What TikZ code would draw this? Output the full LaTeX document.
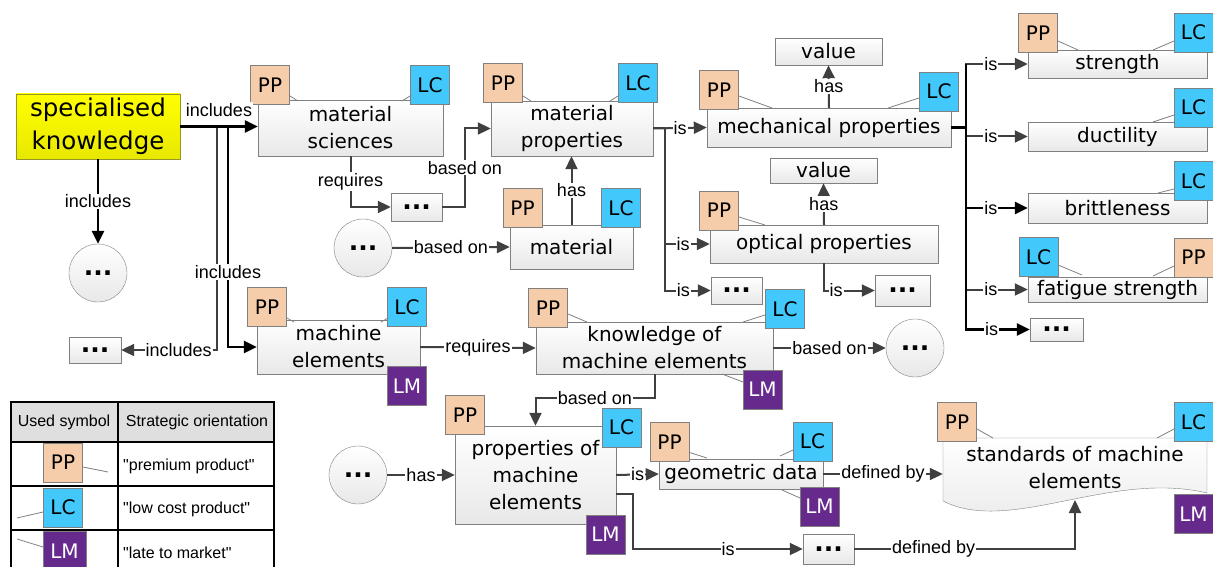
\documentclass[tikz,border=0pt]{standalone}
\usepackage{fontspec}
\setmainfont{DejaVu Sans}
\newfontfamily\lblfont{Liberation Sans}
\usepackage{tikz}
\usetikzlibrary{arrows.meta,calc}
\definecolor{ppcol}{RGB}{245,205,170}
\definecolor{lccol}{RGB}{66,200,250}
\definecolor{lmcol}{RGB}{102,42,140}
\definecolor{boxgray}{RGB}{128,128,128}
\definecolor{boxfill}{RGB}{232,232,232}
\definecolor{linkgray}{RGB}{64,64,64}
\definecolor{keyyellow}{RGB}{255,255,0}
\definecolor{keyyellowdark}{RGB}{232,232,0}
\definecolor{keyborder}{RGB}{150,150,40}
\newcommand\conceptfont{\fontsize{20}{27}\selectfont}
\newcommand\dotsmark{{\fontsize{25}{25}\selectfont\textbf{...}}}

\begin{document}
\begin{tikzpicture}[x=1pt,y=-1pt,
    concept/.style={draw=boxgray, top color=white, bottom color=boxfill, inner sep=1pt, align=center, font=\conceptfont},
    keyconcept/.style={draw=keyborder, top color=keyyellow, bottom color=keyyellowdark, font=\fontsize{24.5}{33}\selectfont},
    dotcircle/.style={circle, draw=boxgray, top color=white, bottom color=boxfill, minimum size=58pt, inner sep=0pt, font=\conceptfont},
    tagbox/.style={draw=boxgray, minimum size=39pt, inner sep=0pt, font=\fontsize{20}{24}\selectfont},
    ppbox/.style={tagbox, fill=ppcol},
    lcbox/.style={tagbox, fill=lccol},
    lmbox/.style={tagbox, fill=lmcol, text=white},
    tagline/.style={draw=boxgray, line width=0.8pt},
    link/.style={draw=linkgray, line width=2pt, -{Triangle[length=13pt,width=12pt]}},
    linkb/.style={link, draw=black, line width=2.5pt},
    lbl/.style={fill=white, inner sep=1pt, font=\lblfont\fontsize{18}{20}\selectfont},
    legtext/.style={inner sep=0pt, font=\lblfont\fontsize{16}{18}\selectfont}]
  \useasboundingbox (0,0) rectangle (1213,567);

  % concepts
  \node[concept, keyconcept, minimum width=164pt, minimum height=65pt] (spec) at (98,126.5) {specialised\\knowledge};
  \node[dotcircle] (circA) at (98,273) {\dotsmark};
  \node[concept, minimum width=185pt, minimum height=56pt] (matsci) at (350.5,128) {material\\sciences};
  \node[concept, minimum width=162pt, minimum height=55pt] (matprop) at (572,128.5) {material\\properties};
  \node[concept, minimum width=51pt, minimum height=28pt] (dotsReq) at (416.5,207) {\dotsmark};
  \node[dotcircle] (circB) at (363,248) {\dotsmark};
  \node[concept, minimum width=123pt, minimum height=44pt] (material) at (571.5,247) {material};
  \node[concept, minimum width=244pt, minimum height=39pt] (mech) at (829,127.5) {mechanical properties};
  \node[concept, minimum width=107pt, minimum height=27pt] (valueA) at (828.5,51.5) {value};
  \node[concept, minimum width=107pt, minimum height=25pt] (valueB) at (823.5,170.5) {value};
  \node[concept, minimum width=228pt, minimum height=38pt] (optical) at (824,244) {optical properties};
  \node[concept, minimum width=55pt, minimum height=31pt] (dotsOpt) at (902.5,290.5) {\dotsmark};
  \node[concept, minimum width=51pt, minimum height=27pt] (dotsMat) at (736.5,290.5) {\dotsmark};
  \node[concept, minimum width=179pt, minimum height=28pt] (strength) at (1117.5,64) {strength};
  \node[concept, minimum width=179pt, minimum height=29pt] (ductility) at (1117.5,136.5) {ductility};
  \node[concept, minimum width=179pt, minimum height=30pt] (brittle) at (1117.5,208) {brittleness};
  \node[concept, minimum width=179pt, minimum height=25pt] (fatigue) at (1117.5,289.5) {fatigue strength};
  \node[concept, minimum width=53pt, minimum height=23pt] (dotsMech) at (1056.5,329.5) {\dotsmark};
  \node[concept, minimum width=52pt, minimum height=26pt] (dotsInc) at (95,350) {\dotsmark};
  \node[concept, minimum width=163pt, minimum height=54pt] (machel) at (338.5,347) {machine\\elements};
  \node[concept, minimum width=237pt, minimum height=52pt] (knowl) at (654.5,348) {knowledge of\\machine elements};
  \node[dotcircle] (circC) at (915,348) {\dotsmark};
  \node[concept, minimum width=161pt, minimum height=98pt] (propme) at (535.5,475) {properties of\\machine\\elements};
  \node[dotcircle] (circD) at (358,475) {\dotsmark};
  \node[concept, minimum width=164pt, minimum height=30pt] (geom) at (741,474) {geometric data};
  \node[concept, minimum width=51pt, minimum height=30pt] (dotsBot) at (828.5,549) {\dotsmark};

  % document shape
  \coordinate (wl) at (943,501);
  \coordinate (wr) at (1207,493);
  \coordinate (wb) at (1075,500);
  \draw[draw=boxgray, top color=white, bottom color=boxfill] (943,438) -- (1207,438) -- (wr) .. controls (1110,470) and (1010,535) .. (wl) -- cycle;
  \node[minimum width=264pt, minimum height=64pt, align=center, font=\conceptfont] (std) at (1075,468) {standards of machine\\elements};

  % tag lines
  \draw[tagline] (290,96) -- ++(8,5) (410,96) -- ++(-8,5);
  \draw[tagline] (523,96) -- ++(8,5) (618,96) -- ++(-8,5);
  \draw[tagline] (739,96) -- ++(33,12) (919,98) -- ++(-31,10);
  \draw[tagline] (739,217) -- ++(26,8);
  \draw[tagline] (1058,41) -- ++(20,9) (1174,41) -- ++(-21,9);
  \draw[tagline] (1174,115) -- ++(-21,7);
  \draw[tagline] (1174,189) -- ++(-16,4);
  \draw[tagline] (1058,265) -- ++(24,10) (1174,266) -- ++(-21,10);
  \draw[tagline] (287,318) -- ++(7,4) (388,318) -- ++(-7,4);
  \draw[tagline] (568,314) -- ++(19,8) (765,315) -- ++(-22,7) (743,382) -- ++(-21,-8);
  \draw[tagline] (688,452) -- ++(19,6) (793,450) -- ++(-13,6) (800,498) -- ++(-18,-8);
  \draw[tagline] (977,429) -- ++(16,9) (1174,429) -- ++(-17,9);

  % tags
  \node[ppbox] (ppMatsci) at (270,85) {PP};
  \node[lcbox] (lcMatsci) at (430,85) {LC};
  \node[ppbox] (ppMatprop) at (503,83) {PP};
  \node[lcbox] (lcMatprop) at (638,83) {LC};
  \node[ppbox] (ppMaterial) at (522.5,208) {PP};
  \node[lcbox] (lcMaterial) at (621,208) {LC};
  \node[ppbox] (ppMech) at (719,90) {PP};
  \node[lcbox] (lcMech) at (939,91.5) {LC};
  \node[ppbox] (ppOptical) at (719,210.5) {PP};
  \node[ppbox] (ppStrength) at (1038,33) {PP};
  \node[lcbox] (lcStrength) at (1193.5,32.5) {LC};
  \node[lcbox] (lcDuctility) at (1193.5,107.5) {LC};
  \node[lcbox] (lcBrittle) at (1193.5,181) {LC};
  \node[lcbox] (lcFatigue) at (1038.5,257) {LC};
  \node[ppbox] (ppFatigue) at (1193.5,257.5) {PP};
  \node[ppbox] (ppMachel) at (267,307) {PP};
  \node[lcbox] (lcMachel) at (407,307) {LC};
  \node[lmbox] (lmMachel) at (407,386) {LM};
  \node[ppbox] (ppKnowl) at (548,308) {PP};
  \node[lcbox] (lcKnowl) at (785,309) {LC};
  \node[lmbox] (lmKnowl) at (762.5,389.5) {LM};
  \node[ppbox] (ppPropme) at (465,415) {PP};
  \node[lcbox] (lcPropme) at (621.5,427.5) {LC};
  \node[lmbox] (lmPropme) at (605.5,534.5) {LM};
  \node[ppbox] (ppGeom) at (669.5,442) {PP};
  \node[lcbox] (lcGeom) at (812.5,441.5) {LC};
  \node[lmbox] (lmGeom) at (819.5,506.5) {LM};
  \node[ppbox] (ppStd) at (957,422) {PP};
  \node[lcbox] (lcStd) at (1193.5,422) {LC};
  \node[lmbox] (lmStd) at (1193.5,514) {LM};

  % links
  \coordinate (j1) at (228,126.5);
  \coordinate (j2) at (217,126.5);
  \draw[link] (spec.east) -- (j2) |- (dotsInc.east) node[lbl,pos=.7]{includes};
  \draw[linkb] (spec.east) -- (j1) |- (machel.west) node[lbl,pos=.33]{includes};
  \draw[linkb] (spec.east) -- (spec.east -| matsci.west) node[lbl,midway,above=8pt]{includes};
  \draw[linkb] (spec.south) -- (circA.north) node[lbl,midway]{includes};
  \draw[link] (matsci.south) |- (dotsReq.west) node[lbl,pos=.25]{requires};
  \coordinate (j3) at (465,0);
  \draw[link] (dotsReq.east) -| (j3 |- matprop.west) node[lbl,pos=.75]{based on} -- (matprop.west);
  \draw[link] (circB.east) -- (material.west) node[lbl,midway]{based on};
  \draw[link] (material.north) -- (material.north |- matprop.south) node[lbl,midway]{has};
  \coordinate (t1) at ($(matprop.east)+(12,0)$);
  \draw[link] (matprop.east) -- (mech.west) node[lbl,midway]{is};
  \draw[link] (matprop.east) -- (t1) |- (optical.west) node[lbl,pos=.7]{is};
  \draw[link] (t1) |- (dotsMat.west) node[lbl,pos=.7]{is};
  \draw[link] (mech.north) -- (valueA.south) node[lbl,midway]{has};
  \draw[link] (optical.north) -- (valueB.south) node[lbl,midway]{has};
  \draw[link] (optical.south) |- (dotsOpt.west) node[lbl,pos=.62]{is};
  \coordinate (t2) at ($(mech.east)+(15,0)$);
  \draw[link] (t2) |- (strength.west) node[lbl,pos=.7]{is};
  \draw[link] (t2) |- (ductility.west) node[lbl,pos=.7]{is};
  \draw[link] (t2) |- (fatigue.west) node[lbl,pos=.7]{is};
  \draw[linkb] (t2) |- (brittle.west) node[lbl,pos=.7]{is};
  \draw[linkb] (t2) |- (dotsMech.west) node[lbl,pos=.7]{is};
  \draw[black, line width=2.5pt] (mech.east) -- (t2) (t2 |- strength.west) -- (t2 |- dotsMech.west);
  \draw[link] (machel.east) -- (knowl.west) node[lbl,midway]{requires};
  \draw[link] (knowl.east) -- (circC.west) node[lbl,midway]{based on};
  \draw[link] (knowl.south) -- ++(0,24) -| (propme.north) node[lbl,pos=.25]{based on};
  \draw[link] (circD.east) -- (propme.west) node[lbl,midway]{has};
  \draw[link] (propme.east) -- (geom.west) node[lbl,midway]{is};
  \draw[link] ([yshift=-19pt]propme.east) -- ++(17,0) |- (dotsBot.west) node[lbl,pos=.78]{is};
  \draw[link] (geom.east) -- (geom.east -| std.west) node[lbl,midway]{defined by};
  \draw[link] (dotsBot.east) -| (wb) node[lbl,pos=.18]{defined by};

  % legend
  \filldraw[fill=gray!25, line width=1.5pt] (11,402) rectangle (274,442);
  \draw[line width=1.5pt] (11,442) rectangle (274,590);
  \draw[line width=1.5pt] (118,402) -- (118,590) (11,486) -- (274,486) (11,530) -- (274,530);
  \node[legtext] (legHeadA) at (64,422) {Used symbol};
  \node[legtext] (legHeadB) at (197,422) {Strategic orientation};
  \draw[tagline] (83,467) -- (108,472) (17,518) -- (43,512) (17,539) -- (43,547);
  \node[ppbox] (legPP) at (63,462.5) {PP};
  \node[lcbox] (legLC) at (63,507.5) {LC};
  \node[lmbox, minimum width=43pt] (legLM) at (64.5,551) {LM};
  \node[legtext, anchor=west] (legPPtext) at (123,466) {"premium product"};
  \node[legtext, anchor=west] (legLCtext) at (123,509) {"low cost product"};
  \node[legtext, anchor=west] (legLMtext) at (123,553) {"late to market"};
\end{tikzpicture}
\end{document}
